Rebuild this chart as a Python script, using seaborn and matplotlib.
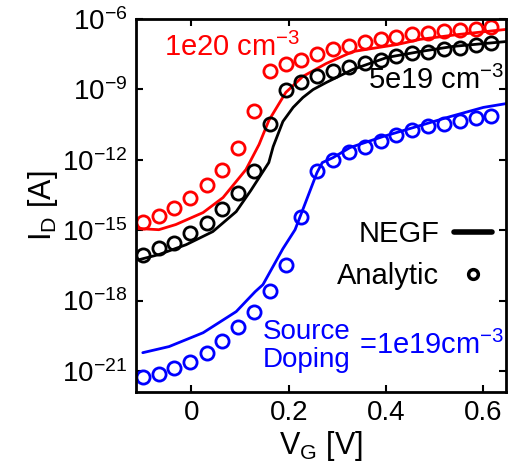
import numpy as np
import pandas as pd
import matplotlib
matplotlib.use("Agg")
import matplotlib.pyplot as plt
from matplotlib.lines import Line2D
import seaborn as sns

# gate voltage of the analytic points [V]
vg_analytic = [-0.100, -0.067, -0.035, -0.002, 0.031, 0.063, 0.096, 0.128,
               0.161, 0.194, 0.226, 0.259, 0.291, 0.324, 0.356, 0.389,
               0.421, 0.454, 0.486, 0.519, 0.551, 0.584, 0.616]

# log10(I_D) of the analytic points
analytic_1e20 = [-14.64, -14.38, -14.04, -13.61, -13.06, -12.42, -11.48, -9.94,
                 -8.24, -7.92, -7.73, -7.51, -7.30, -7.17, -7.00, -6.87,
                 -6.75, -6.66, -6.58, -6.53, -6.49, -6.45, -6.36]
analytic_5e19 = [-16.04, -15.74, -15.53, -15.10, -14.68, -14.08, -13.40, -12.46,
                 -10.46, -9.01, -8.67, -8.45, -8.24, -8.03, -7.86, -7.73,
                 -7.60, -7.47, -7.39, -7.30, -7.22, -7.13, -7.04]
analytic_1e19 = [-21.25, -21.12, -20.86, -20.61, -20.22, -19.71, -19.11, -18.47,
                 -17.61, -16.47, -14.46, -12.50, -12.03, -11.69, -11.44, -11.18,
                 -10.93, -10.75, -10.58, -10.46, -10.33, -10.20, -10.12]

# NEGF curves (VG, log10 I_D)
negf_1e20_vg = [-0.110, -0.067, -0.032, 0.024, 0.065, 0.112, 0.139, 0.159,
                0.194, 0.229, 0.277, 0.332, 0.423, 0.470, 0.550, 0.645]
negf_1e20 = [-14.93, -14.98, -14.76, -14.25, -13.61, -12.42, -11.35, -10.33,
             -9.13, -8.45, -7.90, -7.39, -7.09, -6.87, -6.66, -6.45]

negf_5e19_vg = [-0.108, -0.067, -0.011, 0.044, 0.092, 0.122, 0.159, 0.168,
                0.188, 0.209, 0.229, 0.250, 0.277, 0.332, 0.402, 0.470,
                0.538, 0.649]
negf_5e19 = [-16.26, -16.04, -15.62, -15.06, -14.21, -13.31, -12.12, -11.44,
             -10.37, -9.77, -9.35, -9.01, -8.71, -8.15, -7.64, -7.39,
             -7.17, -6.96]

negf_1e19_vg = [-0.100, -0.046, 0.024, 0.092, 0.131, 0.147, 0.188, 0.213,
                0.229, 0.258, 0.269, 0.291, 0.326, 0.394, 0.464, 0.532,
                0.600, 0.649]
negf_1e19 = [-20.22, -19.96, -19.37, -18.47, -17.62, -17.32, -15.79, -14.98,
             -14.12, -12.55, -12.12, -11.91, -11.48, -11.01, -10.58, -10.16,
             -9.77, -9.60]

colors = {"1e20": "#ff0000", "5e19": "#000000", "1e19": "#0000ff"}

negf = pd.concat([
    pd.DataFrame({"VG": negf_1e20_vg, "ID": 10.0 ** np.array(negf_1e20), "doping": "1e20"}),
    pd.DataFrame({"VG": negf_5e19_vg, "ID": 10.0 ** np.array(negf_5e19), "doping": "5e19"}),
    pd.DataFrame({"VG": negf_1e19_vg, "ID": 10.0 ** np.array(negf_1e19), "doping": "1e19"}),
])
analytic = pd.concat([
    pd.DataFrame({"VG": vg_analytic, "ID": 10.0 ** np.array(analytic_1e20), "doping": "1e20"}),
    pd.DataFrame({"VG": vg_analytic, "ID": 10.0 ** np.array(analytic_5e19), "doping": "5e19"}),
    pd.DataFrame({"VG": vg_analytic, "ID": 10.0 ** np.array(analytic_1e19), "doping": "1e19"}),
])

sns.set_style("ticks", {"axes.edgecolor": "black", "text.color": "black",
                        "xtick.color": "black", "ytick.color": "black",
                        "axes.labelcolor": "black"})
plt.rcParams["font.family"] = ["Liberation Sans", "DejaVu Sans"]
plt.rcParams["mathtext.fontset"] = "custom"
plt.rcParams["mathtext.rm"] = "Liberation Sans"
plt.rcParams["mathtext.it"] = "Liberation Sans:italic"
plt.rcParams["mathtext.bf"] = "Liberation Sans:bold"

fig = plt.figure(figsize=(5.15, 4.73), dpi=100)
ax = fig.add_axes([0.264, 0.171, 0.719, 0.789])
ax.set_yscale("log")

for d in ["1e20", "5e19", "1e19"]:
    sns.lineplot(data=negf[negf.doping == d], x="VG", y="ID", color=colors[d],
                 lw=2.0, sort=False, estimator=None, ax=ax)
    sns.lineplot(data=analytic[analytic.doping == d], x="VG", y="ID",
                 linestyle="none", marker="o", ms=9.5, mfc="none",
                 mec=colors[d], mew=2.0, sort=False, estimator=None, ax=ax)

ax.set_xlim(-0.114, 0.647)
ax.set_ylim(10 ** -21.9, 1e-6)
ax.set_xticks([0, 0.2, 0.4, 0.6])
ax.set_xticklabels(["0", "0.2", "0.4", "0.6"])
ax.set_yticks([1e-21, 1e-18, 1e-15, 1e-12, 1e-9, 1e-6])
ax.set_yticklabels([r"$10^{-21}$", r"$10^{-18}$", r"$10^{-15}$",
                    r"$10^{-12}$", r"$10^{-9}$", r"$10^{-6}$"])
ax.minorticks_off()
ax.tick_params(which="both", direction="in", top=True, right=True,
               length=5, width=1.5, labelsize=20, pad=6)
for s in ax.spines.values():
    s.set_linewidth(2)
    s.set_visible(True)

ax.set_xlabel(r"V$_{\mathrm{G}}$ [V]", fontsize=22, labelpad=2)
ax.set_ylabel(r"I$_{\mathrm{D}}$ [A]", fontsize=22, labelpad=2)

ax.text(-0.057, 10 ** -7.2, r"1e20 cm$^{-3}$", color=colors["1e20"],
        fontsize=21, ha="left", va="center")
ax.text(0.643, 10 ** -8.6, r"5e19 cm$^{-3}$", color=colors["5e19"],
        fontsize=21, ha="right", va="center")
ax.text(0.147, 10 ** -19.95, "Source\nDoping", color=colors["1e19"],
        fontsize=20, ha="left", va="center", linespacing=1.1)
ax.text(0.643, 10 ** -19.9, r"=1e19cm$^{-3}$", color=colors["1e19"],
        fontsize=21, ha="right", va="center")

handles = [Line2D([], [], color="black", lw=4),
           Line2D([], [], color="black", ls="none", marker="o", ms=7,
                  mfc="none", mew=2.5)]
ax.legend(handles, ["NEGF", "Analytic"], frameon=False, markerfirst=False,
          fontsize=21, handlelength=1.3, handletextpad=0.5, labelspacing=0.5,
          borderaxespad=0.1, loc="center right", bbox_to_anchor=(1.0, 0.367))

fig.savefig("out.png", dpi=100)
